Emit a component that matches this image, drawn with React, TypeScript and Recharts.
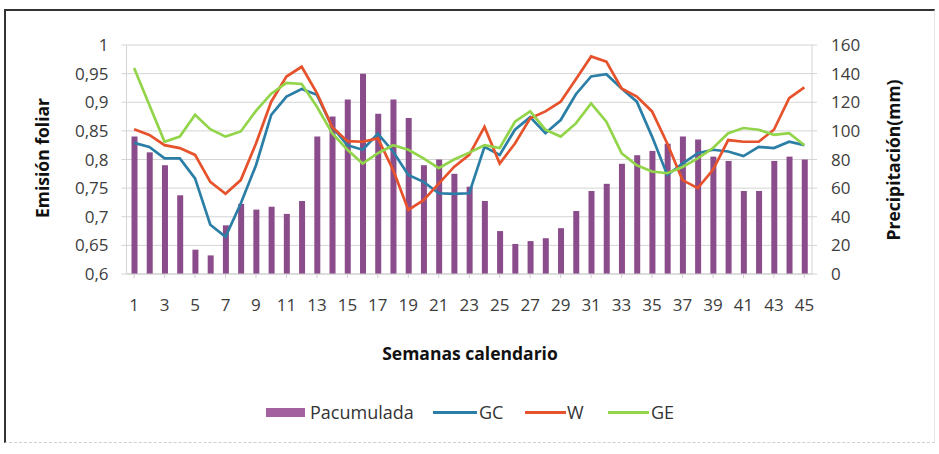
import { ComposedChart, Bar, Line, XAxis, YAxis, CartesianGrid } from 'recharts';

// semanas calendario 1..45
const weeks = [
  1, 2, 3, 4, 5, 6, 7, 8, 9, 10, 11, 12, 13, 14, 15, 16, 17, 18, 19, 20, 21, 22, 23,
  24, 25, 26, 27, 28, 29, 30, 31, 32, 33, 34, 35, 36, 37, 38, 39, 40, 41, 42, 43, 44, 45,
];

// precipitación acumulada (mm), eje derecho
const pacumulada = [
  96, 85, 76, 55, 17, 13, 34, 49, 45, 47, 42, 51, 96, 110, 122, 140, 112, 122, 109, 76, 80, 70, 61,
  51, 30, 21, 23, 25, 32, 44, 58, 63, 77, 83, 86, 91, 96, 94, 82, 79, 58, 58, 79, 82, 80,
];

// emisión foliar, eje izquierdo
const gc = [
  0.829, 0.822, 0.802, 0.802, 0.767, 0.686, 0.665, 0.723, 0.79, 0.878, 0.91, 0.923, 0.913, 0.857,
  0.825, 0.817, 0.845, 0.814, 0.773, 0.761, 0.741, 0.74, 0.741, 0.822, 0.808, 0.852, 0.874, 0.846,
  0.869, 0.914, 0.945, 0.949, 0.924, 0.901, 0.84, 0.773, 0.793, 0.811, 0.817, 0.814, 0.806, 0.822,
  0.82, 0.831, 0.825,
];
const w = [
  0.853, 0.843, 0.825, 0.82, 0.808, 0.761, 0.74, 0.764, 0.828, 0.901, 0.945, 0.962, 0.916, 0.857,
  0.832, 0.831, 0.837, 0.782, 0.712, 0.729, 0.758, 0.787, 0.808, 0.857, 0.793, 0.828, 0.872, 0.884,
  0.901, 0.94, 0.98, 0.971, 0.924, 0.91, 0.884, 0.828, 0.764, 0.75, 0.782, 0.834, 0.831, 0.831,
  0.852, 0.907, 0.926,
];
const ge = [
  0.96, 0.895, 0.831, 0.84, 0.878, 0.853, 0.84, 0.849, 0.885, 0.915, 0.934, 0.932, 0.892, 0.846,
  0.817, 0.793, 0.811, 0.825, 0.817, 0.802, 0.785, 0.8, 0.812, 0.825, 0.82, 0.866, 0.884, 0.852,
  0.84, 0.863, 0.898, 0.866, 0.811, 0.79, 0.779, 0.776, 0.787, 0.802, 0.82, 0.846, 0.855, 0.852,
  0.843, 0.846, 0.825,
];

const leftTicks = [0.6, 0.65, 0.7, 0.75, 0.8, 0.85, 0.9, 0.95, 1];
const rightTicks = [0, 20, 40, 60, 80, 100, 120, 140, 160];

const data = weeks.map((wk, i) => ({
  week: wk,
  pacumulada: pacumulada[i],
  gc: gc[i],
  w: w[i],
  ge: ge[i],
}));

const FONT = '"Open Sans", sans-serif';
const C_BAR = '#8b4c8b';
const C_GC = '#2b7ea6';
const C_W = '#e6522b';
const C_GE = '#92d44a';

const fmtComma = (v: number) => String(v).replace('.', ',');

export default function App() {
  const tickStyle = { fill: '#3d3d3d', fontSize: 17, fontFamily: FONT };
  const titleStyle: React.CSSProperties = {
    position: 'absolute',
    fontFamily: FONT,
    fontWeight: 700,
    fontSize: 17.5,
    color: '#111',
    whiteSpace: 'nowrap',
  };
  const legendText: React.CSSProperties = {
    position: 'absolute',
    top: 399,
    fontFamily: FONT,
    fontSize: 18,
    color: '#333',
    lineHeight: '26px',
  };

  return (
    <div style={{ position: 'absolute', left: 0, top: 0, width: 939, height: 454, background: '#fff' }}>
      {/* marco */}
      <div
        style={{
          position: 'absolute',
          left: 4,
          top: 9,
          width: 928,
          height: 431,
          borderLeft: '2px solid #333',
          borderTop: '2px solid #333',
          borderRight: '1px solid #e4e4e4',
          borderBottom: '1px dashed #cfcfcf',
        }}
      />
      <ComposedChart
        width={939}
        height={454}
        data={data}
        margin={{ top: 45, left: 46.5, right: 47, bottom: 140 }}
        style={{ position: 'absolute', left: 0, top: 0 }}
      >
        <CartesianGrid vertical={false} stroke="#d4d4d4" yAxisId="left" />
        <XAxis
          dataKey="week"
          height={40}
          interval={1}
          tick={tickStyle}
          tickSize={4}
          tickMargin={21}
          stroke="#cfcfcf"
        />
        <YAxis
          yAxisId="left"
          width={80}
          domain={[0.6, 1]}
          ticks={leftTicks}
          tickFormatter={fmtComma}
          tick={tickStyle}
          tickSize={5}
          tickMargin={13}
          stroke="#d4d4d4"
        />
        <YAxis
          yAxisId="right"
          orientation="right"
          width={80}
          domain={[0, 160]}
          ticks={rightTicks}
          tick={tickStyle}
          tickSize={5}
          tickMargin={14}
          stroke="#d4d4d4"
        />
        <Bar yAxisId="right" dataKey="pacumulada" fill={C_BAR} barSize={6} isAnimationActive={false} />
        <Line yAxisId="left" dataKey="gc" stroke={C_GC} strokeWidth={2.7} dot={false} isAnimationActive={false} />
        <Line yAxisId="left" dataKey="w" stroke={C_W} strokeWidth={2.7} dot={false} isAnimationActive={false} />
        <Line yAxisId="left" dataKey="ge" stroke={C_GE} strokeWidth={2.7} dot={false} isAnimationActive={false} />
      </ComposedChart>

      {/* títulos de ejes */}
      <div style={{ ...titleStyle, left: 42, top: 158, transform: 'translate(-50%, -50%) rotate(-90deg)' }}>
        Emisión foliar
      </div>
      <div style={{ ...titleStyle, left: 893, top: 160, transform: 'translate(-50%, -50%) rotate(-90deg)' }}>
        Precipitación(mm)
      </div>
      <div style={{ ...titleStyle, left: 470, top: 353, transform: 'translate(-50%, -50%)' }}>
        Semanas calendario
      </div>

      {/* leyenda */}
      <div style={{ position: 'absolute', left: 266, top: 408, width: 39, height: 9, background: '#a3629f' }} />
      <div style={{ ...legendText, left: 310 }}>Pacumulada</div>
      <div style={{ position: 'absolute', left: 433, top: 411, width: 44, height: 3, background: C_GC }} />
      <div style={{ ...legendText, left: 479 }}>GC</div>
      <div style={{ position: 'absolute', left: 525, top: 411, width: 41, height: 3, background: C_W }} />
      <div style={{ ...legendText, left: 567 }}>W</div>
      <div style={{ position: 'absolute', left: 608, top: 411, width: 41, height: 3, background: C_GE }} />
      <div style={{ ...legendText, left: 651 }}>GE</div>
    </div>
  );
}
